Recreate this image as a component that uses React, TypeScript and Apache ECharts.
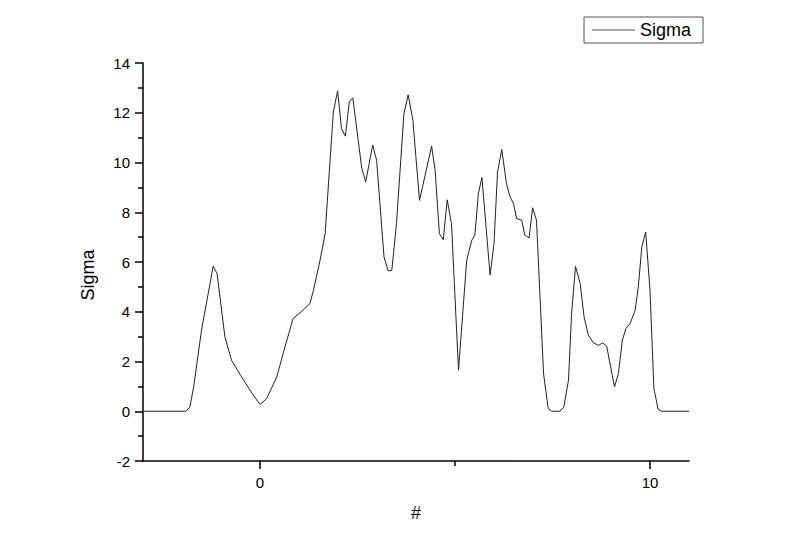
import React, { useEffect, useRef } from "react";
import * as echarts from "echarts";

const seriesName = "Sigma";
const xValues = [
  -3, -1.9, -1.8, -1.7, -1.5, -1.2, -1.1, -0.9, -0.73, -0.5, -0.2, 0, 0.17, 0.43, 0.64, 0.85, 1.1, 1.28, 1.37, 1.54,
  1.67, 1.88, 1.99, 2.09, 2.19, 2.29, 2.38, 2.61, 2.71, 2.89, 2.99, 3.18, 3.29, 3.38, 3.5, 3.69, 3.8, 3.92, 4.09, 4.4,
  4.49, 4.6, 4.7, 4.8, 4.91, 5.09, 5.3, 5.43, 5.51, 5.6, 5.69, 5.9, 6.0, 6.09, 6.2, 6.32, 6.41, 6.5, 6.58, 6.71,
  6.79, 6.9, 6.99, 7.09, 7.27, 7.39, 7.48, 7.69, 7.79, 7.91, 7.99, 8.09, 8.21, 8.31, 8.42, 8.55, 8.68, 8.79, 8.89, 9.09,
  9.19, 9.29, 9.38, 9.49, 9.62, 9.7, 9.79, 9.89, 10.0, 10.1, 10.21, 10.3, 11,
];
const sigmaValues = [
  0, 0, 0.17, 0.98, 3.26, 5.83, 5.53, 2.99, 2.05, 1.45, 0.71, 0.27, 0.51, 1.38, 2.59, 3.73, 4.06, 4.33, 4.86, 6.07,
  7.14, 12.03, 12.88, 11.36, 11.06, 12.44, 12.6, 9.76, 9.22, 10.7, 10.09, 6.2, 5.64, 5.67, 7.55, 11.97, 12.72, 11.7, 8.48, 10.66,
  9.69, 7.14, 6.9, 8.5, 7.55, 1.65, 6.07, 6.87, 7.08, 8.75, 9.4, 5.47, 6.74, 9.62, 10.52, 9.15, 8.62, 8.35, 7.75, 7.68,
  7.08, 6.97, 8.18, 7.68, 1.52, 0.11, 0, 0, 0.17, 1.25, 3.93, 5.82, 5.13, 3.79, 3.06, 2.75, 2.65, 2.75, 2.61, 0.98,
  1.52, 2.85, 3.32, 3.53, 4.06, 5.0, 6.61, 7.2, 4.86, 0.91, 0.07, 0, 0,
];
const xLabelValues = [0, 10];
const xMinorTickValues = [5];
const xAxisTitle = "#";
const yAxisTitle = "Sigma";

const FONT = "'Liberation Sans', Arial, sans-serif";

export default function App() {
  const ref = useRef<HTMLDivElement>(null);
  useEffect(() => {
    if (!ref.current) return;
    const chart = echarts.init(ref.current, null, { renderer: "svg" });
    const data = xValues.map((x, i) => [x, sigmaValues[i]]);
    chart.setOption({
      animation: false,
      backgroundColor: "#ffffff",
      textStyle: { fontFamily: FONT },
      grid: { left: 143, right: 111, top: 63, bottom: 93, containLabel: false },
      legend: {
        left: 584,
        top: 17,
        orient: "vertical",
        data: [seriesName],
        icon: "rect",
        itemWidth: 43,
        itemHeight: 1,
        itemGap: 0,
        padding: [4, 12, 4, 8],
        borderColor: "#555",
        borderWidth: 1,
        itemStyle: { color: "#555" },
        textStyle: { fontSize: 18, color: "#000", fontFamily: FONT, lineHeight: 18 },
      },
      xAxis: [
        {
          type: "value",
          min: -3,
          max: 11,
          name: xAxisTitle,
          nameLocation: "middle",
          nameGap: 43,
          nameTextStyle: { fontSize: 18, color: "#000", fontFamily: FONT },
          axisLine: { show: true, onZero: false, lineStyle: { color: "#000", width: 1.5 } },
          axisTick: { show: true, customValues: xLabelValues, length: 8, lineStyle: { color: "#000", width: 1.5 } },
          axisLabel: { customValues: xLabelValues, fontSize: 15, color: "#000", margin: 14, fontFamily: FONT },
          splitLine: { show: false },
        },
        {
          type: "value",
          min: -3,
          max: 11,
          position: "bottom",
          axisLine: { show: false, onZero: false },
          axisTick: { show: true, customValues: xMinorTickValues, length: 5, lineStyle: { color: "#000", width: 1.5 } },
          axisLabel: { show: false },
          splitLine: { show: false },
        },
      ],
      yAxis: {
        type: "value",
        min: -2,
        max: 14,
        interval: 2,
        name: yAxisTitle,
        nameLocation: "middle",
        nameGap: 46,
        nameTextStyle: { fontSize: 18, color: "#000", fontFamily: FONT, padding: [0, 26, 0, 0] },
        axisLine: { show: true, onZero: false, lineStyle: { color: "#000", width: 1.5 } },
        axisTick: { show: true, length: 8, lineStyle: { color: "#000", width: 1.5 } },
        minorTick: { show: true, splitNumber: 2, length: 5, lineStyle: { color: "#000", width: 1.5 } },
        axisLabel: { fontSize: 15, color: "#000", margin: 13, fontFamily: FONT },
        splitLine: { show: false },
        minorSplitLine: { show: false },
      },
      series: [
        {
          name: seriesName,
          type: "line",
          xAxisIndex: 0,
          data,
          symbol: "none",
          showSymbol: false,
          lineStyle: { color: "#222", width: 1 },
          itemStyle: { color: "#222" },
        },
      ],
    });
    return () => chart.dispose();
  }, []);
  return <div ref={ref} style={{ position: "fixed", left: 0, top: 0, width: 800, height: 554 }} />;
}
